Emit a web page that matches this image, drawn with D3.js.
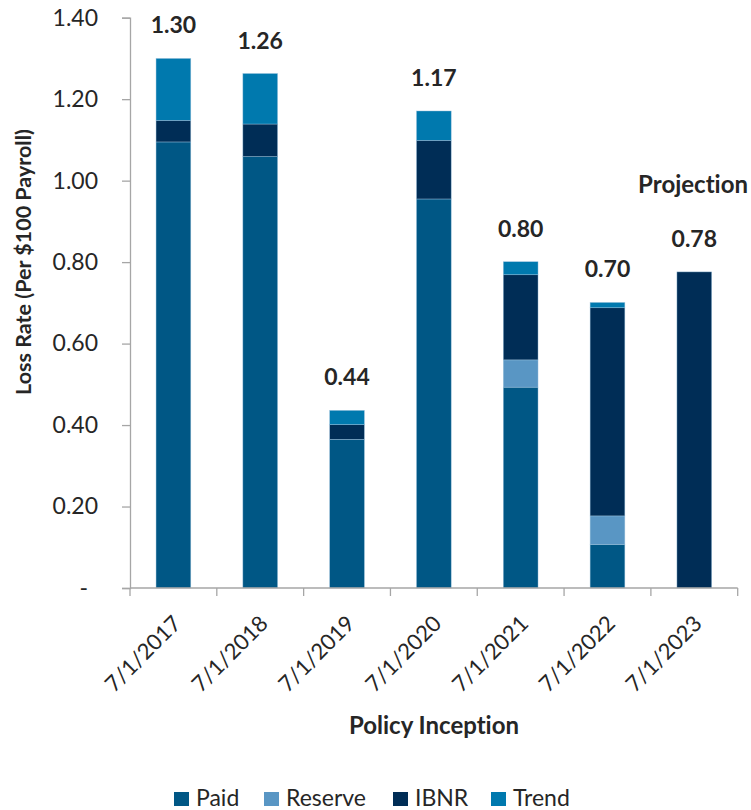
<!DOCTYPE html>
<html>
<head>
<meta charset="utf-8">
<script src="https://cdn.jsdelivr.net/npm/d3@7"></script>
<style>
  html, body { margin: 0; padding: 0; background: #fff; }
  svg { display: block; font-family: Lato, "Open Sans", sans-serif; font-variant-ligatures: none; }
</style>
</head>
<body>
<svg id="chart" width="751" height="810"></svg>
<script>
// Policy years and loss-rate components (per $100 payroll)
const categories = ["7/1/2017", "7/1/2018", "7/1/2019", "7/1/2020", "7/1/2021", "7/1/2022", "7/1/2023"];
const seriesNames = ["Paid", "Reserve", "IBNR", "Trend"];
const paid    = [1.095, 1.059, 0.365, 0.955, 0.493, 0.107, 0.000];
const reserve = [0.000, 0.000, 0.000, 0.000, 0.067, 0.070, 0.000];
const ibnr    = [0.053, 0.080, 0.036, 0.144, 0.209, 0.511, 0.776];
const trend   = [0.152, 0.124, 0.035, 0.072, 0.032, 0.013, 0.000];
const totalLabels = ["1.30", "1.26", "0.44", "1.17", "0.80", "0.70", "0.78"];
const yTicks = [0, 0.2, 0.4, 0.6, 0.8, 1.0, 1.2, 1.4];
const colors = { Paid: "#005785", Reserve: "#5996c4", IBNR: "#002d56", Trend: "#0079ae" };

const rows = categories.map((c, i) => ({
  cat: c, Paid: paid[i], Reserve: reserve[i], IBNR: ibnr[i], Trend: trend[i]
}));

const svg = d3.select("#chart");
const textColor = "#262626";
const axisColor = "#a6a6a6";

const x = d3.scaleBand().domain(categories).range([130, 737.7])
  .paddingInner(0.6).paddingOuter(0.3);
const y = d3.scaleLinear().domain([0, 1.4]).range([588, 17.7]);

// stacked bars
const stacked = d3.stack().keys(seriesNames)(rows);
svg.append("g").selectAll("g").data(stacked).join("g")
  .attr("fill", d => colors[d.key])
  .selectAll("rect").data(d => d.filter(s => s[1] - s[0] > 0)).join("rect")
  .attr("x", d => x(d.data.cat))
  .attr("width", x.bandwidth())
  .attr("y", d => y(d[1]))
  .attr("height", d => y(d[0]) - y(d[1]))
  .attr("stroke", "#9cc3de").attr("stroke-width", 0.6).attr("stroke-opacity", 0.7);

// y axis
const yAxis = d3.axisLeft(y).tickValues(yTicks).tickSize(8)
  .tickFormat(d => d === 0 ? "-" : d3.format(".2f")(d));
const gy = svg.append("g").attr("transform", "translate(130,0)").call(yAxis);
gy.select(".domain").attr("stroke", axisColor).attr("stroke-width", 1.3);
gy.selectAll(".tick line").attr("stroke", axisColor).attr("stroke-width", 1.3);
gy.selectAll(".tick text")
  .attr("x", d => d === 0 ? -42 : -32)
  .attr("font-size", 23).attr("fill", textColor)
  .attr("font-family", "Lato, sans-serif");

// x axis: line with ticks at category boundaries
const step = x.step();
const x0 = x.range()[0];
const gx = svg.append("g");
gx.append("line").attr("x1", x0).attr("x2", x.range()[1])
  .attr("y1", y(0)).attr("y2", y(0))
  .attr("stroke", axisColor).attr("stroke-width", 1.3);
gx.selectAll("line.tk").data(d3.range(categories.length + 1)).join("line")
  .attr("class", "tk")
  .attr("x1", i => x0 + i * step).attr("x2", i => x0 + i * step)
  .attr("y1", y(0)).attr("y2", y(0) + 8)
  .attr("stroke", axisColor).attr("stroke-width", 1.3);
gx.selectAll("text").data(categories).join("text")
  .attr("transform", d => `translate(${x(d) + x.bandwidth() / 2 + 9},${y(0) + 37}) rotate(-45)`)
  .attr("text-anchor", "end")
  .attr("font-size", 22).attr("fill", textColor)
  .text(d => d);

// total labels above bars
svg.append("g").selectAll("text").data(rows).join("text")
  .attr("x", d => x(d.cat) + x.bandwidth() / 2)
  .attr("y", d => y(d.Paid + d.Reserve + d.IBNR + d.Trend) - 25)
  .attr("text-anchor", "middle")
  .attr("font-size", 23).attr("font-weight", "bold").attr("fill", textColor)
  .text((d, i) => totalLabels[i]);

// projection note
svg.append("text")
  .attr("x", 748).attr("y", 193)
  .attr("text-anchor", "end")
  .attr("font-size", 24).attr("font-weight", "bold").attr("fill", textColor)
  .text("Projection");

// axis titles
svg.append("text")
  .attr("transform", "translate(31,262) rotate(-90)")
  .attr("text-anchor", "middle")
  .attr("font-size", 21.5).attr("font-weight", "bold").attr("fill", textColor)
  .text("Loss Rate (Per $100 Payroll)");
svg.append("text")
  .attr("x", 434).attr("y", 734)
  .attr("text-anchor", "middle")
  .attr("font-size", 24).attr("font-weight", "bold").attr("fill", textColor)
  .text("Policy Inception");

// legend
const legendX = [174, 264, 393, 491];
const lg = svg.append("g").selectAll("g").data(seriesNames).join("g")
  .attr("transform", (d, i) => `translate(${legendX[i]},792)`);
lg.append("rect").attr("width", 15).attr("height", 14).attr("y", 0)
  .attr("fill", d => colors[d]);
lg.append("text").attr("x", 22).attr("y", 14)
  .attr("font-size", 23).attr("fill", textColor)
  .text(d => d);
</script>
</body>
</html>
